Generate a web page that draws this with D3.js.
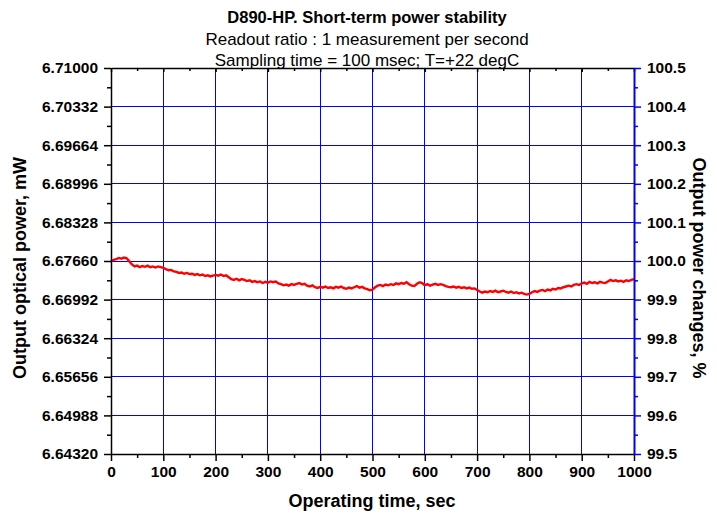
<!DOCTYPE html>
<html>
<head>
<meta charset="utf-8">
<script src="https://cdn.jsdelivr.net/npm/d3@7"></script>
<style>
  body { margin: 0; background: #fff; }
  svg { font-family: Arial, "Liberation Sans", sans-serif; }
  .tick-label { font-size: 15.5px; font-weight: bold; fill: #000; }
  .axis-title { font-size: 18px; font-weight: bold; }
</style>
</head>
<body>
<svg id="chart"></svg>
<script>
// sampling grid, seconds
const times = d3.range(0, 1001, 5);

// output power relative to start, %
const powerPct = [
  100.000, 100.003, 100.005, 100.008, 100.006, 100.009, 100.007, 99.999, 99.991, 99.986,
  99.988, 99.984, 99.987, 99.985, 99.988, 99.984, 99.986, 99.983, 99.986, 99.984,
  99.982, 99.979, 99.976, 99.977, 99.973, 99.972, 99.969, 99.970, 99.967, 99.969,
  99.966, 99.967, 99.964, 99.966, 99.963, 99.965, 99.961, 99.963, 99.960, 99.962,
  99.964, 99.962, 99.965, 99.961, 99.963, 99.958, 99.953, 99.951, 99.954, 99.950,
  99.953, 99.951, 99.948, 99.950, 99.946, 99.948, 99.945, 99.947, 99.943, 99.946,
  99.944, 99.947, 99.945, 99.947, 99.942, 99.940, 99.937, 99.939, 99.936, 99.940,
  99.938, 99.941, 99.943, 99.939, 99.941, 99.936, 99.934, 99.937, 99.932, 99.930,
  99.933, 99.931, 99.934, 99.930, 99.932, 99.929, 99.933, 99.931, 99.934, 99.930,
  99.928, 99.931, 99.929, 99.932, 99.935, 99.931, 99.933, 99.929, 99.927, 99.924,
  99.926, 99.932, 99.936, 99.938, 99.935, 99.939, 99.937, 99.940, 99.938, 99.942,
  99.940, 99.943, 99.941, 99.945, 99.940, 99.936, 99.935, 99.941, 99.945, 99.943,
  99.937, 99.940, 99.936, 99.939, 99.941, 99.938, 99.940, 99.938, 99.935, 99.933,
  99.932, 99.934, 99.931, 99.933, 99.930, 99.932, 99.929, 99.931, 99.928, 99.929,
  99.925, 99.921, 99.918, 99.921, 99.919, 99.922, 99.920, 99.923, 99.919, 99.921,
  99.923, 99.920, 99.918, 99.921, 99.917, 99.919, 99.916, 99.918, 99.915, 99.913,
  99.915, 99.919, 99.922, 99.920, 99.923, 99.925, 99.922, 99.926, 99.924, 99.928,
  99.926, 99.930, 99.929, 99.932, 99.934, 99.936, 99.934, 99.938, 99.940, 99.938,
  99.942, 99.944, 99.941, 99.946, 99.943, 99.945, 99.942, 99.946, 99.944, 99.943,
  99.947, 99.951, 99.948, 99.950, 99.947, 99.949, 99.946, 99.950, 99.948, 99.951,
  99.953
];

const xTicks = [0, 100, 200, 300, 400, 500, 600, 700, 800, 900, 1000];
const leftTicks = ['6.64320', '6.64988', '6.65656', '6.66324', '6.66992', '6.67660',
  '6.68328', '6.68996', '6.69664', '6.70332', '6.71000'];
const rightTicks = [99.5, 99.6, 99.7, 99.8, 99.9, 100.0, 100.1, 100.2, 100.3, 100.4, 100.5];

const titleLines = [
  'D890-HP. Short-term power stability',
  'Readout ratio : 1 measurement per second',
  'Sampling time = 100 msec; T=+22 degC'
];

const width = 717, height = 519;
const margin = { top: 68, right: 83, bottom: 65, left: 111 };
const w = width - margin.left - margin.right;
const h = height - margin.top - margin.bottom;

const svg = d3.select('#chart').attr('width', width).attr('height', height);
const chart = svg.append('g').attr('transform', `translate(${margin.left},${margin.top})`);

const x = d3.scaleLinear().domain([0, 1000]).range([0, w]);
const yLeft = d3.scaleLinear().domain([6.6432, 6.71]).range([h, 0]);
const yRight = d3.scaleLinear().domain([99.5, 100.5]).range([h, 0]);

const blue = '#0000ff';

// grid
chart.append('g').selectAll('line.vg')
  .data(xTicks.slice(1, -1)).join('line')
  .attr('x1', d => x(d)).attr('x2', d => x(d))
  .attr('y1', 0).attr('y2', h)
  .attr('stroke', blue).attr('stroke-width', 1).attr('shape-rendering', 'crispEdges');
chart.append('g').selectAll('line.hg')
  .data(leftTicks.slice(1, -1)).join('line')
  .attr('x1', 0).attr('x2', w)
  .attr('y1', d => yLeft(+d)).attr('y2', d => yLeft(+d))
  .attr('stroke', blue).attr('stroke-width', 1).attr('shape-rendering', 'crispEdges');

// data line
const line = d3.line()
  .x((d, i) => x(times[i]))
  .y(d => yRight(d));
chart.append('path')
  .datum(powerPct)
  .attr('d', line)
  .attr('fill', 'none')
  .attr('stroke', '#ff0000')
  .attr('stroke-width', 2.4)
  .attr('stroke-linejoin', 'miter');

// minor tick positions between majors
const xMinor = xTicks.slice(0, -1).map(d => d + 50);
const leftMinor = leftTicks.slice(0, -1).map(d => +d + 0.00334);
const rightMinor = rightTicks.slice(0, -1).map(d => d + 0.05);

function styleAxis(g, color) {
  g.select('.domain').attr('stroke', color).attr('stroke-width', 1.5);
  g.selectAll('.tick line').attr('stroke', color).attr('stroke-width', 1.5);
  g.selectAll('.tick text').attr('class', 'tick-label');
}

// bottom
const xAxisG = chart.append('g').attr('transform', `translate(0,${h})`)
  .call(d3.axisBottom(x).tickValues(xTicks).tickFormat(d3.format('d')).tickSizeInner(7).tickSizeOuter(0).tickPadding(5));
styleAxis(xAxisG, '#000');
chart.append('g').attr('transform', `translate(0,${h})`)
  .call(d3.axisBottom(x).tickValues(xMinor).tickFormat('').tickSize(4).tickSizeOuter(0))
  .call(g => { g.select('.domain').remove(); g.selectAll('line').attr('stroke', '#000').attr('stroke-width', 1.5); });

// top
chart.append('g')
  .call(d3.axisTop(x).tickValues(xTicks).tickFormat('').tickSizeInner(-4).tickSizeOuter(0))
  .call(g => { g.select('.domain').attr('stroke', '#000').attr('stroke-width', 1.5); g.selectAll('line').attr('stroke', '#000').attr('stroke-width', 1.5); });
chart.append('g')
  .call(d3.axisTop(x).tickValues(xMinor).tickFormat('').tickSize(-3).tickSizeOuter(0))
  .call(g => { g.select('.domain').remove(); g.selectAll('line').attr('stroke', '#000').attr('stroke-width', 1.5); });

// left
const yLeftG = chart.append('g')
  .call(d3.axisLeft(yLeft).tickValues(leftTicks.map(Number)).tickFormat((d, i) => leftTicks[i]).tickSizeInner(7).tickSizeOuter(0).tickPadding(6));
styleAxis(yLeftG, '#000');
chart.append('g')
  .call(d3.axisLeft(yLeft).tickValues(leftMinor).tickFormat('').tickSize(4).tickSizeOuter(0))
  .call(g => { g.select('.domain').remove(); g.selectAll('line').attr('stroke', '#000').attr('stroke-width', 1.5); });

// right
const yRightG = chart.append('g').attr('transform', `translate(${w},0)`)
  .call(d3.axisRight(yRight).tickValues(rightTicks).tickFormat(d3.format('.1f')).tickSizeInner(7).tickSizeOuter(0).tickPadding(6));
styleAxis(yRightG, blue);
yRightG.select('.domain').attr('stroke-width', 2);
chart.append('g').attr('transform', `translate(${w},0)`)
  .call(d3.axisRight(yRight).tickValues(rightMinor).tickFormat('').tickSize(4).tickSizeOuter(0))
  .call(g => { g.select('.domain').remove(); g.selectAll('line').attr('stroke', blue).attr('stroke-width', 1.5); });

// titles
const cx = 367;
svg.append('text').attr('x', cx).attr('y', 23).attr('text-anchor', 'middle')
  .style('font-size', '16.5px').style('font-weight', 'bold').text(titleLines[0]);
svg.append('text').attr('x', cx).attr('y', 45).attr('text-anchor', 'middle')
  .style('font-size', '17px').text(titleLines[1]);
svg.append('text').attr('x', cx).attr('y', 66).attr('text-anchor', 'middle')
  .style('font-size', '17px').text(titleLines[2]);

svg.append('text').attr('class', 'axis-title')
  .attr('x', 372).attr('y', 507).attr('text-anchor', 'middle')
  .text('Operating time, sec');
svg.append('text').attr('class', 'axis-title')
  .attr('transform', 'translate(26,268) rotate(-90)')
  .attr('text-anchor', 'middle')
  .text('Output optical power, mW');
svg.append('text').attr('class', 'axis-title')
  .attr('transform', 'translate(693,268) rotate(90)')
  .attr('text-anchor', 'middle')
  .text('Output power changes, %');
</script>
</body>
</html>
